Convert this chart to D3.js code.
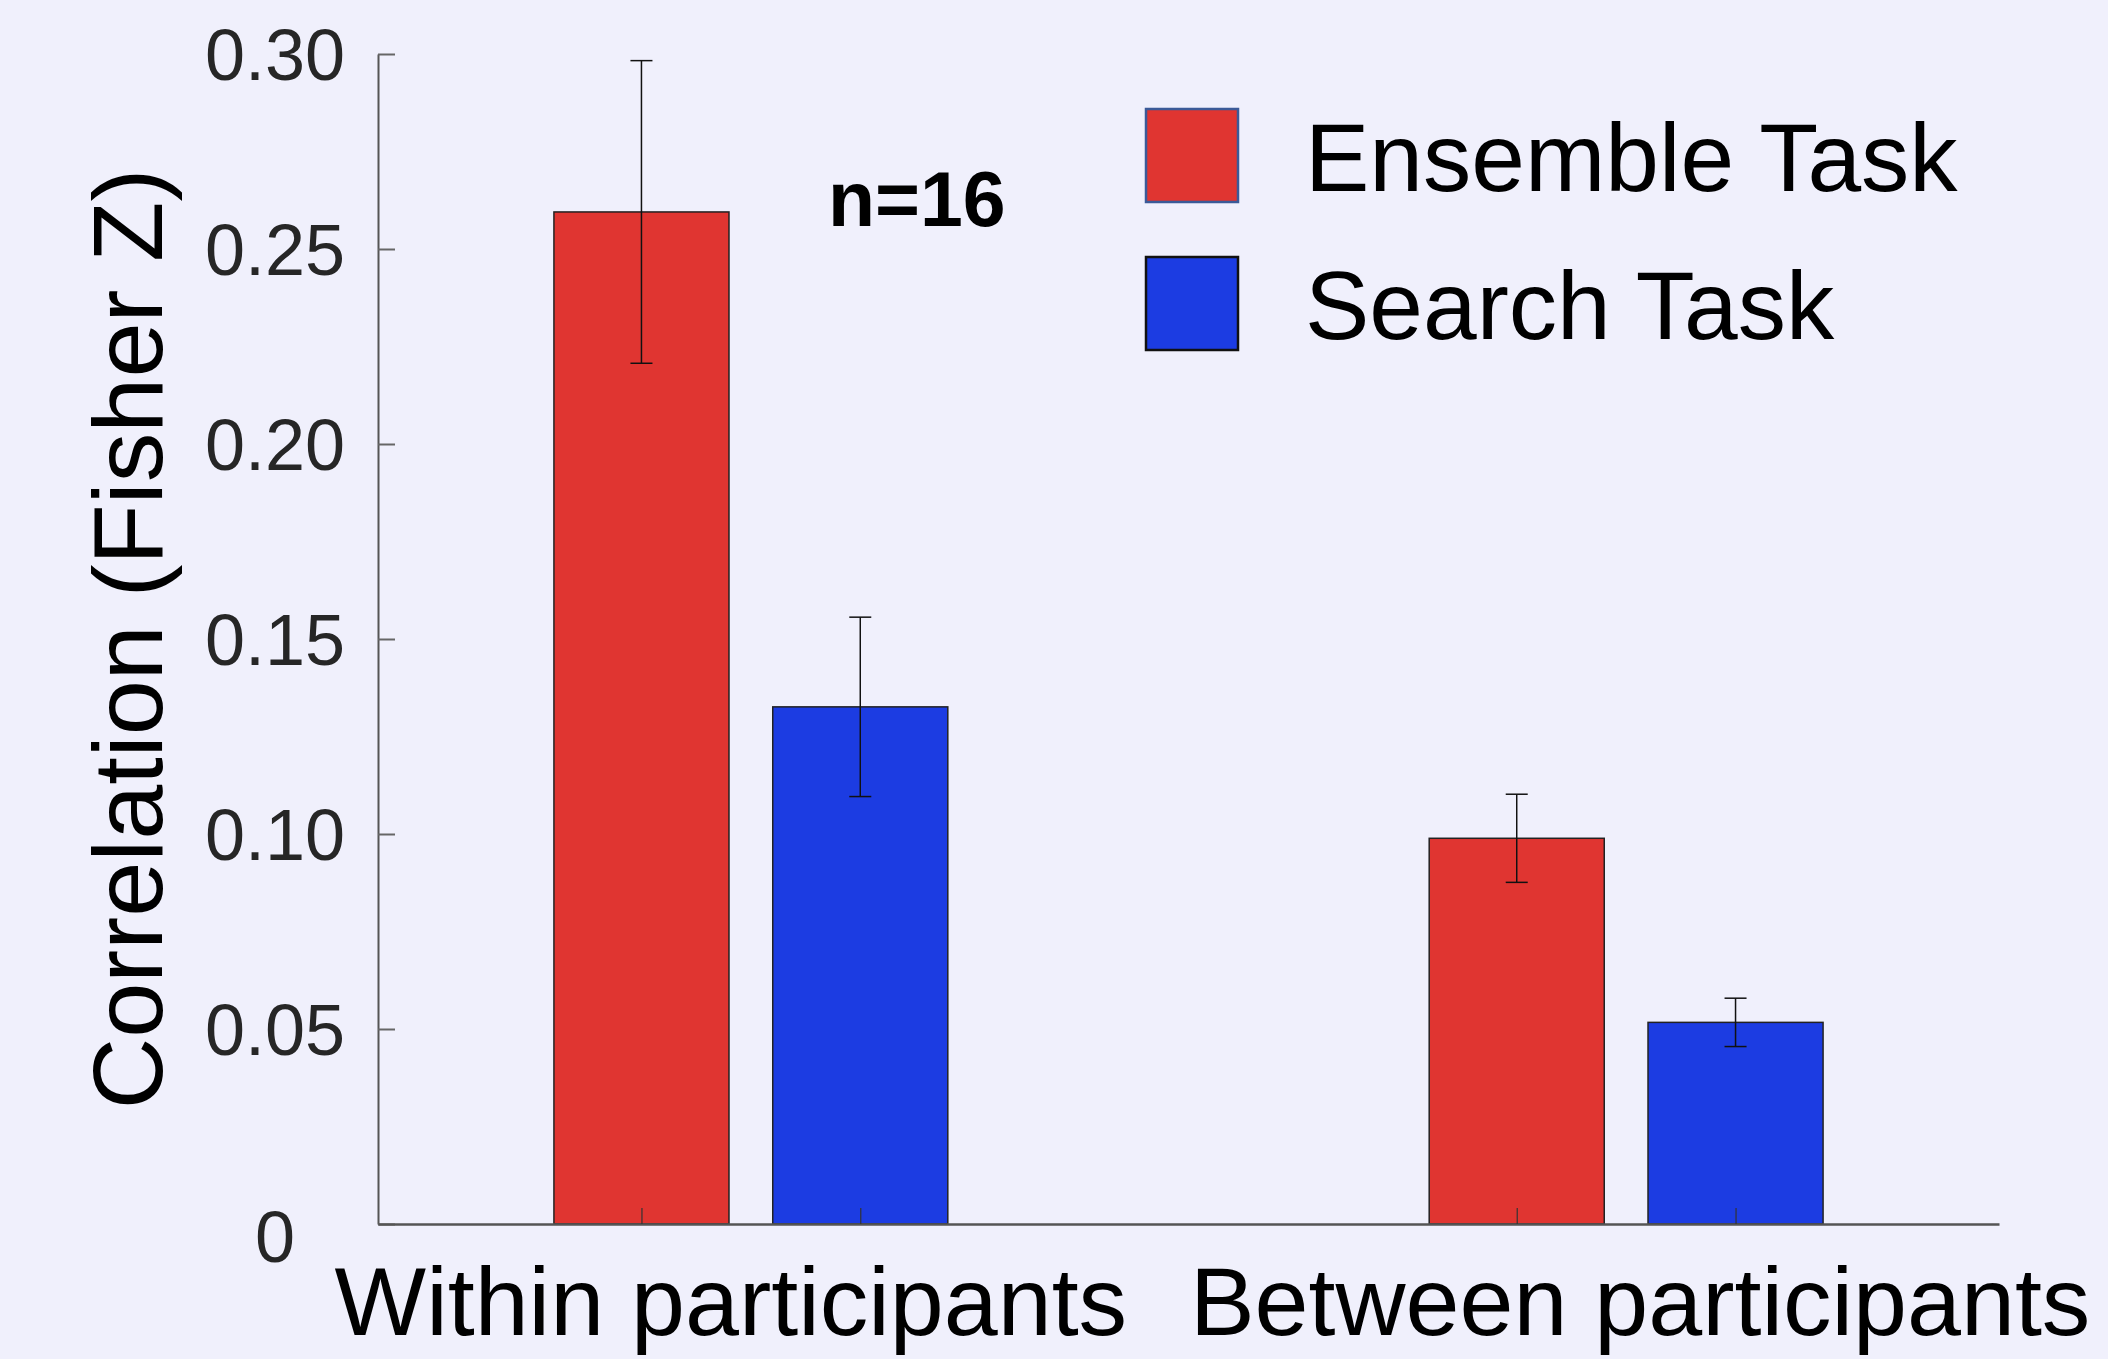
<!DOCTYPE html>
<html>
<head>
<meta charset="utf-8">
<script src="https://cdn.jsdelivr.net/npm/d3@7"></script>
<style>
  html, body { margin: 0; padding: 0; background: #f0f0fc; }
  svg { display: block; font-family: "Liberation Sans", Arial, Helvetica, sans-serif; }
</style>
</head>
<body>
<script>
// Grouped bar chart: Fisher-Z correlations with SEM error bars
const groups = ["Within participants", "Between participants"];
const seriesNames = ["Ensemble Task", "Search Task"];
const ensembleMeans = [0.2595, 0.0989];
const ensembleErrors = [0.0388, 0.0113];
const searchMeans = [0.1326, 0.0517];
const searchErrors = [0.0230, 0.0062];
const yTicks = [0, 0.05, 0.10, 0.15, 0.20, 0.25, 0.30];
const yTickLabels = ["0", "0.05", "0.10", "0.15", "0.20", "0.25", "0.30"];
const seriesColors = ["#e03531", "#1c3ce2"];
const legendBorders = ["#3b5a98", "#111111"];

(function () {
  const W = 2108, H = 1359;
  const svg = d3.select("body").append("svg").attr("width", W).attr("height", H);
  svg.append("rect").attr("width", W).attr("height", H).attr("fill", "#f0f0fc");

  const plotLeft = 378, plotRight = 1999, plotTop = 54, plotBottom = 1224;

  // group positions are 1 and 2 on a continuous axis
  const x = d3.scaleLinear().domain([0.574, 2.426]).range([plotLeft, plotRight]);
  const y = d3.scaleLinear().domain([0, 0.30]).range([plotBottom, plotTop]);

  const offset = 0.125, barW = 0.2;
  const bars = [];
  groups.forEach((g, gi) => {
    [ensembleMeans, searchMeans].forEach((means, si) => {
      const errs = si === 0 ? ensembleErrors : searchErrors;
      bars.push({ series: si, pos: gi + 1 + (si === 0 ? -offset : offset), value: means[gi], err: errs[gi] });
    });
  });

  // bars
  svg.append("g").selectAll("rect").data(bars).join("rect")
    .attr("x", d => x(d.pos - barW / 2))
    .attr("width", d => x(d.pos + barW / 2) - x(d.pos - barW / 2))
    .attr("y", d => y(d.value))
    .attr("height", d => y(0) - y(d.value))
    .attr("fill", d => seriesColors[d.series])
    .attr("stroke", "#222")
    .attr("stroke-width", 1.5);

  // error bars
  const eg = svg.append("g").attr("stroke", "#111").attr("stroke-width", 1.5);
  bars.forEach(d => {
    const cx = x(d.pos), cap = 11;
    eg.append("line").attr("x1", cx).attr("x2", cx).attr("y1", y(d.value - d.err)).attr("y2", y(d.value + d.err));
    eg.append("line").attr("x1", cx - cap).attr("x2", cx + cap).attr("y1", y(d.value + d.err)).attr("y2", y(d.value + d.err));
    eg.append("line").attr("x1", cx - cap).attr("x2", cx + cap).attr("y1", y(d.value - d.err)).attr("y2", y(d.value - d.err));
  });

  // y axis (ticks point inward)
  const yAxis = d3.axisLeft(y).tickValues(yTicks).tickFormat((d, i) => yTickLabels[i]).tickSizeInner(-17).tickSizeOuter(0);
  const yg = svg.append("g").attr("transform", `translate(${plotLeft},0)`).call(yAxis);
  yg.select(".domain").attr("stroke", "#555").attr("stroke-width", 2);
  yg.selectAll(".tick line").attr("stroke", "#666").attr("stroke-width", 2);
  yg.selectAll(".tick text")
    .attr("x", -103).attr("text-anchor", "middle")
    .attr("dy", d => d === 0 ? "0.52em" : "0.36em")
    .attr("fill", "#262626").attr("font-size", 72)
    .attr("font-family", "\"Liberation Sans\", Arial, sans-serif");

  // x axis with ticks at bar centres (pointing up)
  const xAxis = d3.axisBottom(x).tickValues(bars.map(d => d.pos)).tickFormat("").tickSizeInner(-16).tickSizeOuter(0);
  const xg = svg.append("g").attr("transform", `translate(0,${plotBottom})`).call(xAxis);
  xg.select(".domain").attr("stroke", "#555").attr("stroke-width", 2.5);
  xg.selectAll(".tick line").attr("stroke", "#333").attr("stroke-width", 1.2);

  // category labels
  svg.append("g").selectAll("text").data(groups).join("text")
    .attr("x", (d, i) => x(i + 1) + (i === 0 ? -20 : 14))
    .attr("y", 1335)
    .attr("text-anchor", "middle")
    .attr("font-size", 97)
    .attr("fill", "#000")
    .text(d => d);

  // y axis title
  svg.append("text")
    .attr("transform", "translate(162,639) rotate(-90)")
    .attr("text-anchor", "middle")
    .attr("font-size", 99)
    .attr("fill", "#000")
    .text("Correlation (Fisher Z)");

  // sample size annotation
  svg.append("text")
    .attr("x", 828).attr("y", 226)
    .attr("font-size", 77).attr("font-weight", "bold")
    .attr("fill", "#000")
    .text("n=16");

  // legend
  const lg = svg.append("g");
  seriesNames.forEach((name, i) => {
    const yy = 109 + i * 148;
    lg.append("rect").attr("x", 1146).attr("y", yy).attr("width", 92).attr("height", 93)
      .attr("fill", seriesColors[i]).attr("stroke", legendBorders[i]).attr("stroke-width", 2.5);
    lg.append("text").attr("x", 1305).attr("y", yy + 82)
      .attr("font-size", 96.5).attr("fill", "#000").text(name);
  });
})();
</script>
</body>
</html>
